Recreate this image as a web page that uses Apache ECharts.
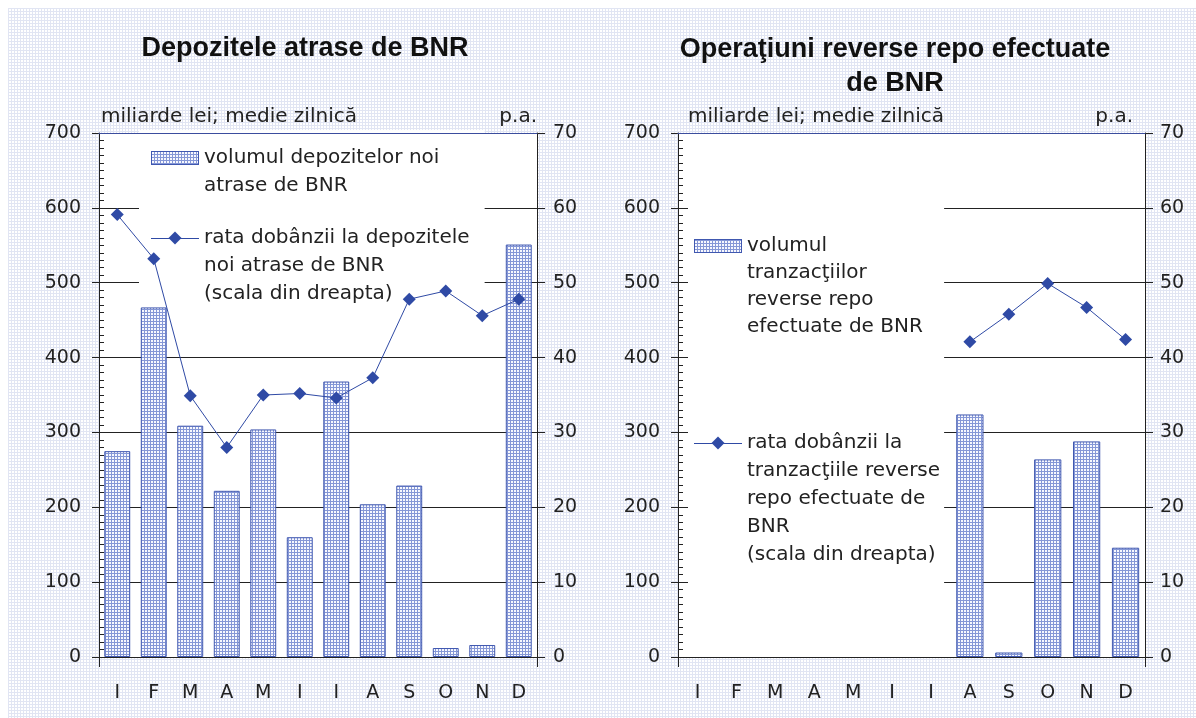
<!DOCTYPE html>
<html>
<head>
<meta charset="utf-8">
<script src="https://cdn.jsdelivr.net/npm/echarts@6/dist/echarts.min.js"></script>
<style>
  html, body { margin: 0; padding: 0; background: #fff; }
  #bg {
    position: absolute; left: 8px; top: 8px; right: 0; bottom: 0;
    background-color: #fff;
    background-image:
      linear-gradient(to right, #e1e5f3 1px, transparent 1px),
      linear-gradient(to bottom, #e1e5f3 1px, transparent 1px);
    background-size: 3px 3px;
  }
  #chart { position: absolute; left: 0; top: 0; width: 1196px; height: 718px; }
</style>
</head>
<body>
<div id="bg"></div>
<div id="chart"></div>
<script>
// date
const months = ['I', 'F', 'M', 'A', 'M', 'I', 'I', 'A', 'S', 'O', 'N', 'D']
const depositVolume = [275, 467, 309, 222, 304, 160, 368, 204, 229, 12, 16, 551]
const depositRate = [59.1, 53.2, 34.9, 28.0, 35.0, 35.2, 34.6, 37.3, 47.8, 48.9, 45.6, 47.8]
const repoVolume = [null, null, null, null, null, null, null, 324, 6, 264, 288, 146]
const repoRate = [null, null, null, null, null, null, null, 42.1, 45.8, 49.9, 46.7, 42.4]
const volumeMax = 700
const volumeStep = 100
const rateMax = 70
const rateStep = 10

const depositVolumeName = 'volumul depozitelor noi atrase de BNR'
const depositRateName = 'rata dobânzii la depozitele noi atrase de BNR (scala din dreapta)'
const repoVolumeName = 'volumul tranzacţiilor reverse repo efectuate de BNR'
const repoRateName = 'rata dobânzii la tranzacţiile reverse repo efectuate de BNR (scala din dreapta)'
const legendLines = {
  [depositVolumeName]: ['volumul depozitelor noi', 'atrase de BNR'],
  [depositRateName]: ['rata dobânzii la depozitele', 'noi atrase de BNR', '(scala din dreapta)'],
  [repoVolumeName]: ['volumul', 'tranzacţiilor', 'reverse repo', 'efectuate de BNR'],
  [repoRateName]: ['rata dobânzii la', 'tranzacţiile reverse', 'repo efectuate de', 'BNR', '(scala din dreapta)']
}

const FONT = '"DejaVu Sans", sans-serif'
const TITLE_FONT = '"Liberation Sans", Arial, sans-serif'
const INK = '#222'
const BLUE = '#2f4aa5'
const BAR_EDGE = '#4058b0'

// hasura fina a barelor
function makeHatch() {
  const c = document.createElement('canvas')
  c.width = 3
  c.height = 3
  const ctx = c.getContext('2d')
  ctx.fillStyle = '#f7f8fe'
  ctx.fillRect(0, 0, 3, 3)
  ctx.fillStyle = '#8597d6'
  ctx.fillRect(0, 0, 3, 1)
  ctx.fillRect(0, 0, 1, 3)
  return c
}
const hatch = makeHatch()

// iconite de legenda aliniate pe primul rand de text
function barIcon(h, cy) {
  const c = document.createElement('canvas')
  c.width = 48
  c.height = h
  const ctx = c.getContext('2d')
  const y = Math.round(cy - 7)
  ctx.fillStyle = ctx.createPattern(hatch, 'repeat')
  ctx.fillRect(0, y, 48, 14)
  ctx.strokeStyle = BAR_EDGE
  ctx.lineWidth = 1
  ctx.strokeRect(0.5, y + 0.5, 47, 13)
  return 'image://' + c.toDataURL()
}

function lineIcon(h, cy) {
  const c = document.createElement('canvas')
  c.width = 48
  c.height = h
  const ctx = c.getContext('2d')
  ctx.strokeStyle = BLUE
  ctx.lineWidth = 1
  ctx.beginPath()
  ctx.moveTo(0, cy + 0.5)
  ctx.lineTo(48, cy + 0.5)
  ctx.stroke()
  ctx.fillStyle = BLUE
  ctx.beginPath()
  ctx.moveTo(24, cy - 6.5)
  ctx.lineTo(30.5, cy)
  ctx.lineTo(24, cy + 6.5)
  ctx.lineTo(17.5, cy)
  ctx.closePath()
  ctx.fill()
  return 'image://' + c.toDataURL()
}

const labelText = { color: INK, fontSize: 19, fontFamily: FONT }
const nameText = { color: INK, fontSize: 20, fontFamily: FONT, verticalAlign: 'bottom' }

function xAxes(g) {
  return [
    {
      gridIndex: g, type: 'category', data: months, position: 'bottom',
      axisLine: { lineStyle: { color: INK, width: 1 } },
      // o singura gradatie => ECharts o pune la ambele capete
      axisTick: { show: true, length: 10, interval: i => i === 0, lineStyle: { color: INK } },
      axisLabel: { ...labelText, margin: 27, interval: 0 }
    },
    {
      gridIndex: g, type: 'category', data: months, position: 'top', z: 10,
      axisLine: { onZero: false, lineStyle: { color: '#3b4d9e', width: 1 } },
      axisTick: { show: false },
      axisLabel: { show: false }
    }
  ]
}

function yAxes(g, leftPad, rightPad, leftMargin, rightMargin) {
  return [
    {
      gridIndex: g, type: 'value', position: 'left',
      min: 0, max: volumeMax, interval: volumeStep,
      name: 'miliarde lei; medie zilnică', nameLocation: 'end', nameGap: 6,
      nameTextStyle: { ...nameText, align: 'left', padding: [0, 0, 0, leftPad] },
      axisLine: { show: true, lineStyle: { color: INK, width: 1 } },
      axisTick: { show: true, length: 7, lineStyle: { color: INK } },
      axisLabel: { ...labelText, margin: leftMargin },
      splitLine: { show: true, lineStyle: { color: INK, width: 1 } }
    },
    {
      gridIndex: g, type: 'value', position: 'right',
      min: 0, max: rateMax, interval: rateStep,
      name: 'p.a.', nameLocation: 'end', nameGap: 6,
      nameTextStyle: { ...nameText, align: 'right', padding: [0, rightPad, 0, 0] },
      axisLine: { show: true, lineStyle: { color: INK, width: 1 } },
      axisTick: { show: true, length: 8, lineStyle: { color: INK } },
      axisLabel: { ...labelText, margin: rightMargin },
      splitLine: { show: false }
    },
    {
      // doar gradatiile mici, spre interior
      gridIndex: g, type: 'value', position: 'left',
      min: 0, max: volumeMax, interval: volumeStep,
      axisLine: { show: false },
      axisTick: { show: false, inside: true },
      minorTick: { show: true, splitNumber: 10, length: 5, lineStyle: { color: INK } },
      axisLabel: { show: false },
      splitLine: { show: false }
    }
  ]
}

function barSeries(name, data, xi, yi, gap) {
  return {
    name, type: 'bar', xAxisIndex: xi, yAxisIndex: yi, data,
    barCategoryGap: gap, z: 2,
    itemStyle: { color: { image: hatch, repeat: 'repeat' }, borderColor: BAR_EDGE, borderWidth: 1 }
  }
}

function lineSeries(name, data, xi, yi) {
  return {
    name, type: 'line', xAxisIndex: xi, yAxisIndex: yi, data,
    symbol: 'diamond', symbolSize: 13, z: 3,
    itemStyle: { color: BLUE },
    lineStyle: { color: BLUE, width: 1 }
  }
}

const legendText = { color: INK, fontSize: 20, fontFamily: FONT, lineHeight: 28 }
const legendFormatter = name => legendLines[name].join('\n')

const chart = echarts.init(document.getElementById('chart'), null, { renderer: 'canvas' })

chart.setOption({
  animation: false,
  backgroundColor: 'transparent',
  title: [
    {
      text: 'Depozitele atrase de BNR', left: 305, top: 32, padding: 0,
      textAlign: 'center', textVerticalAlign: 'top',
      textStyle: { fontFamily: TITLE_FONT, fontSize: 27, fontWeight: 'bold', color: '#111', lineHeight: 34 }
    },
    {
      text: 'Operaţiuni reverse repo efectuate\nde BNR', left: 895, top: 33, padding: 0,
      textAlign: 'center', textVerticalAlign: 'top',
      textStyle: { fontFamily: TITLE_FONT, fontSize: 27, fontWeight: 'bold', color: '#111', lineHeight: 34 }
    }
  ],
  grid: [
    { left: 99, top: 133, width: 438, height: 524, containLabel: false, outerBoundsMode: 'none', show: true, backgroundColor: '#fff', borderWidth: 0 },
    { left: 678, top: 133, width: 467, height: 524, containLabel: false, outerBoundsMode: 'none', show: true, backgroundColor: '#fff', borderWidth: 0 }
  ],
  legend: [
    {
      orient: 'vertical', left: 139, top: 130, padding: [0, 15, 8, 12],
      itemWidth: 48, itemHeight: 84, itemGap: 10,
      backgroundColor: '#fff', z: 1, selectedMode: false,
      textStyle: legendText, formatter: legendFormatter,
      data: [
        { name: depositVolumeName, icon: barIcon(84, 28) },
        { name: depositRateName, icon: lineIcon(84, 14) }
      ]
    },
    {
      orient: 'vertical', left: 688, top: 204, padding: [12, 4, 16, 6],
      itemWidth: 48, itemHeight: 140, itemGap: 73,
      backgroundColor: '#fff', z: 1, selectedMode: false,
      textStyle: legendText, formatter: legendFormatter,
      data: [
        { name: repoVolumeName, icon: barIcon(140, 29.5), textStyle: { lineHeight: 27 } },
        { name: repoRateName, icon: lineIcon(140, 14) }
      ]
    }
  ],
  xAxis: [...xAxes(0), ...xAxes(1)],
  yAxis: [...yAxes(0, 2, 0, 18, 16), ...yAxes(1, 10, 12, 18, 15)],
  series: [
    barSeries(depositVolumeName, depositVolume, 0, 0, '29%'),
    lineSeries(depositRateName, depositRate, 0, 1),
    barSeries(repoVolumeName, repoVolume, 2, 3, '30%'),
    lineSeries(repoRateName, repoRate, 2, 4)
  ]
})
</script>
</body>
</html>
